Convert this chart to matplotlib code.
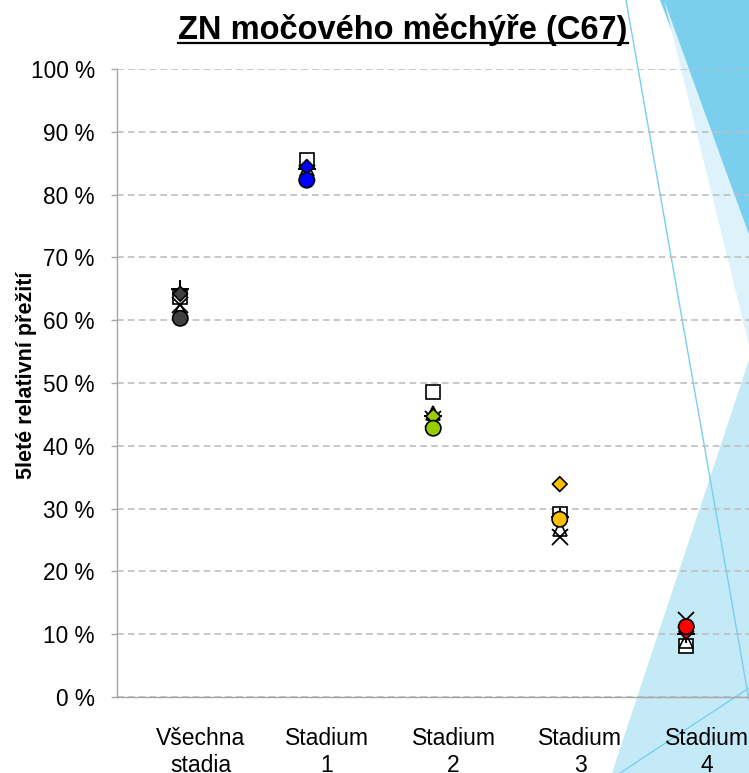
import matplotlib
matplotlib.use("Agg")
import matplotlib.pyplot as plt
from matplotlib.patches import Polygon
from matplotlib.lines import Line2D
from matplotlib.ticker import FuncFormatter, MultipleLocator
import matplotlib.transforms as mtransforms

plt.rcParams['font.family'] = ['Liberation Sans', 'DejaVu Sans']

# data (% five-year relative survival)
categories = ["Všechna\nstadia", "Stadium\n1", "Stadium\n2", "Stadium\n3", "Stadium\n4"]
stage_colors = ['#404040', '#0000FF', '#99CC00', '#FFC000', '#FF0000']

s_square = [63.7, 85.5, 48.5, 29.1, 8.2]
s_triangle = [61.6, 84.0, 45.3, 26.7, 8.9]
s_cross = [62.4, 83.5, 44.2, 25.5, 12.2]
s_plus = [64.9, 84.1, 44.7, 28.7, 10.0]
s_diamond = [64.2, 84.4, 44.7, 33.9, 10.4]
s_circle = [60.3, 82.3, 42.8, 28.3, 11.2]

W, H = 749, 773
fig = plt.figure(figsize=(W / 100, H / 100), dpi=100)


def px(x, y):
    return (x / W, 1 - y / H)


# decorative background shapes (slide theme)
bg = [
    ([(660, 0), (749, 0), (749, 235)], '#7ACFEF'),
    ([(664, 0), (749, 235), (749, 345)], '#DDF2FB'),
    ([(612, 773), (749, 360), (749, 773)], '#C4EAF8'),
]
for pts, col in bg:
    fig.add_artist(Polygon([px(*p) for p in pts], closed=True, transform=fig.transFigure,
                           facecolor=col, edgecolor='none', zorder=0))
for (x0, y0), (x1, y1) in [((626, 0), (749, 700)), ((620, 773), (749, 688))]:
    a, b = px(x0, y0), px(x1, y1)
    fig.add_artist(Line2D([a[0], b[0]], [a[1], b[1]], transform=fig.transFigure,
                          color='#7ACFEF', lw=1.0, zorder=0.5))

ax = fig.add_axes([117 / W, 1 - 697 / H, (749.5 - 117) / W, (697 - 69) / H])
ax.set_facecolor('none')
ax.set_zorder(2)

x = list(range(len(categories)))

ax.plot(x, s_square, ls='none', marker='s', ms=9.5, mfc='white', mec='black', mew=1.2, zorder=3)
ax.plot(x, s_triangle, ls='none', marker='^', ms=10, mfc='none', mec='black', mew=1.2, zorder=4)
ax.plot(x, s_cross, ls='none', marker='x', ms=11, mec='black', mew=1.3, zorder=5)
ax.plot(x, s_plus, ls='none', marker='+', ms=13, mec='black', mew=1.4, zorder=6)
ax.scatter(x, s_diamond, marker='D', s=7.5 ** 2, c=stage_colors, edgecolors='black', linewidths=1.2, zorder=7)
ax.scatter(x, s_circle, marker='o', s=11 ** 2, c=stage_colors, edgecolors='black', linewidths=1.2, zorder=8)

ax.set_xlim(-0.5, 4.5)
ax.set_ylim(0, 100)
ax.yaxis.set_major_locator(MultipleLocator(10))
ax.yaxis.set_major_formatter(FuncFormatter(lambda v, p: f"{int(round(v))} %"))
ax.grid(axis='y', color='#BFBFBF', ls=(0, (4, 2.5)), lw=1.2)
ax.set_axisbelow(True)

for side in ['top', 'right']:
    ax.spines[side].set_visible(False)
for side in ['left', 'bottom']:
    ax.spines[side].set_color('#A6A6A6')
    ax.spines[side].set_linewidth(1.0)

ax.set_xticks([])
ax.tick_params(axis='y', length=4, width=1, color='#A6A6A6', pad=12, labelsize=16.3)

trans = mtransforms.blended_transform_factory(ax.transData, ax.transAxes)
for i, lab in enumerate(categories):
    ax.text(i + 0.16, -0.048, lab, transform=trans, ha='center', va='top',
            fontsize=16.5, linespacing=1.22)

ax.set_ylabel("5leté relativní přežití", fontsize=15.5, fontweight='bold')
ax.yaxis.set_label_coords(-0.127, 0.513)

title = fig.text(403 / W, 1 - 30 / H, "ZN močového měchýře (C67)", ha='center', va='center',
                 fontsize=23.5, fontweight='bold')
fig.canvas.draw()
bb = title.get_window_extent()
uy = 1 - 43 / H
fig.add_artist(Line2D([bb.x0 / W, bb.x1 / W], [uy, uy], transform=fig.transFigure,
                      color='black', lw=1.6))

fig.savefig("out.png", dpi=100)
